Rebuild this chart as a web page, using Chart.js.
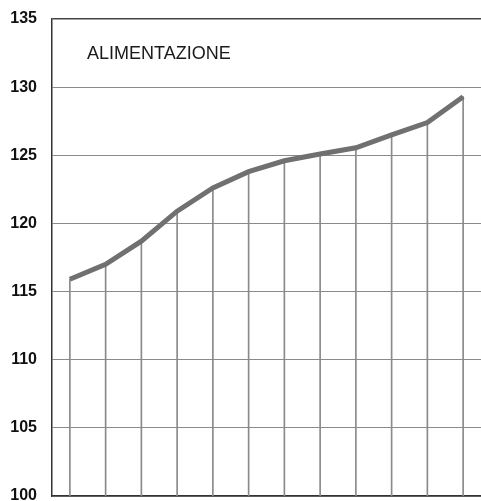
<!DOCTYPE html>
<html>
<head>
<meta charset="utf-8">
<script src="https://cdn.jsdelivr.net/npm/chart.js@4.4.1/dist/chart.umd.min.js"></script>
<style>
  html, body { margin: 0; padding: 0; background: #fff; }
</style>
</head>
<body>
<canvas id="chart" width="481" height="501"></canvas>
<script>
// values, one per period
var periods = ['1', '2', '3', '4', '5', '6', '7', '8', '9', '10', '11', '12'];
var indexValues = [115.9, 117.0, 118.7, 120.9, 122.6, 123.8, 124.6, 125.1, 125.55, 126.5, 127.4, 129.3];
var chartTitle = 'ALIMENTAZIONE';

// title sits inside the plot, top left
var innerTitle = {
  id: 'innerTitle',
  afterDraw(chart) {
    var ctx = chart.ctx;
    var area = chart.chartArea;
    ctx.save();
    ctx.fillStyle = '#1a1a1a';
    ctx.font = '18px "Liberation Sans", Arial, sans-serif';
    ctx.textAlign = 'left';
    ctx.textBaseline = 'middle';
    ctx.fillText(chartTitle, area.left + 35, area.top + 35);
    ctx.restore();
  }
};

Chart.defaults.font.family = '"Liberation Sans", Arial, sans-serif';
var chart = new Chart('chart', {
  data: {
    labels: periods,
    datasets: [
      {
        type: 'line',
        data: indexValues,
        borderColor: '#707070',
        borderWidth: 5,
        pointRadius: 0,
        tension: 0,
        fill: false,
        order: 0
      },
      {
        // drop lines from each point to the base
        type: 'bar',
        data: indexValues,
        backgroundColor: '#8a8a8a',
        borderWidth: 0,
        barThickness: 1,
        order: 1
      }
    ]
  },
  options: {
    responsive: false,
    animation: false,
    layout: { padding: { top: 19, right: 0, bottom: 0, left: 0 } },
    plugins: {
      legend: { display: false },
      tooltip: { enabled: false }
    },
    scales: {
      x: {
        offset: true,
        grid: { display: false },
        border: { display: true, color: '#333', width: 1.5 },
        ticks: { display: false },
        afterFit(scale) { scale.height = 5; }
      },
      y: {
        min: 100,
        max: 135,
        ticks: {
          stepSize: 5,
          color: '#111',
          padding: 0,
          font: { size: 16, weight: 'bold', lineHeight: 0.5 }
        },
        grid: {
          drawTicks: true,
          tickLength: 15,
          tickColor: 'rgba(0,0,0,0)',
          color: function(c) { return c.tick.value === 135 ? '#444' : '#8a8a8a'; },
          lineWidth: function(c) { return c.tick.value === 135 ? 1.5 : 1; }
        },
        border: { color: '#333', width: 1.5 },
        afterFit(scale) { scale.width = 52; }
      }
    }
  },
  plugins: [innerTitle]
});
</script>
</body>
</html>
